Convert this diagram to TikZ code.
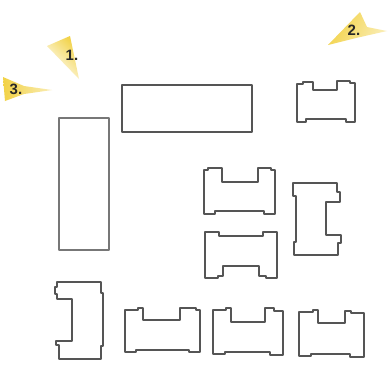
\documentclass[tikz,border=0pt]{standalone}
\usepackage{fontspec}
\setmainfont{Liberation Sans}
\definecolor{outl}{RGB}{85,85,85}
\definecolor{spike}{RGB}{242,210,70}
\definecolor{txt}{RGB}{40,40,40}
\begin{document}
\begin{tikzpicture}[x=1pt,y=-1pt,
  part/.style={draw=outl,line width=1.3pt,line join=round},
  lbl/.style={font=\bfseries\fontsize{15}{15}\selectfont,text=txt,inner sep=0pt},
  spk/.style={draw=none}]
\useasboundingbox (0,0) rectangle (391,370);
\fill[white] (0,0) rectangle (391,370);
% yellow spikes
\shade[spk,left color=spike,right color=white,shading angle=-45] (47,46) -- (70,36) -- (79,79) -- cycle;
\shade[spk,left color=spike,right color=white!60!spike] (3,77) -- (24,86) -- (52,90) -- (24,94) -- (5,101) -- cycle;
\shade[spk,left color=spike,right color=white!60!spike,shading angle=60] (328,45) -- (360,12) -- (367,27) -- (387,31) -- (356,38) -- cycle;
\node[lbl] (l1) at (72,55) {1.};
\node[lbl] (l2) at (354,30) {2.};
\node[lbl] (l3) at (16,89) {3.};
% rectangles
\draw[part] (122,85) rectangle (252,132);
\draw[part,draw=outl!80] (59,118) rectangle (109,250);
% top right (notch on top)
\draw[part] (297,84) -- (303,84) -- (303,82) -- (313,82) -- (313,90) -- (337,90) -- (337,81) -- (350,81) -- (350,83) -- (355,83)
  -- (355,122) -- (346,122) -- (346,119) -- (306,119) -- (306,122) -- (297,122) -- cycle;
% middle upper (notch on top)
\draw[part] (204,170) -- (208,170) -- (208,168) -- (222,168) -- (222,182) -- (258,182) -- (258,168) -- (271,168) -- (271,170) -- (275,170)
  -- (275,214) -- (264,214) -- (264,211) -- (215,211) -- (215,214) -- (204,214) -- cycle;
% middle lower (notch on bottom)
\draw[part] (205,232) -- (219,232) -- (219,236) -- (263,236) -- (263,232) -- (277,232)
  -- (277,278) -- (266,278) -- (266,276) -- (259,276) -- (259,266) -- (223,266) -- (223,276) -- (218,276) -- (218,278) -- (205,278) -- cycle;
% vertical right (notch on right)
\draw[part] (293,183) -- (337,183) -- (337,192) -- (340,192) -- (340,202) -- (326,202) -- (326,235) -- (341,235) -- (341,243) -- (338,243) -- (338,255)
  -- (294,255) -- (294,242) -- (296,242) -- (296,196) -- (293,196) -- cycle;
% vertical left bottom (notch on left)
\draw[part] (57,282) -- (101,282) -- (101,293) -- (103,293) -- (103,346) -- (101,346) -- (101,359) -- (59,359) -- (59,345) -- (56,345) -- (56,341)
  -- (72,341) -- (72,299) -- (57,299) -- (57,294) -- (55,294) -- (55,287) -- (57,287) -- cycle;
% bottom row (notch on top)
\draw[part] (125,310) -- (138,310) -- (138,308) -- (143,308) -- (143,320) -- (180,320) -- (180,308) -- (196,308) -- (196,310) -- (200,310)
  -- (200,352) -- (189,352) -- (189,350) -- (136,350) -- (136,352) -- (125,352) -- cycle;
\draw[part] (213,310) -- (226,310) -- (226,308) -- (231,308) -- (231,322) -- (265,322) -- (265,308) -- (274,308) -- (274,311) -- (283,311)
  -- (283,355) -- (270,355) -- (270,352) -- (225,352) -- (225,354) -- (213,354) -- cycle;
\draw[part] (299,312) -- (313,312) -- (313,310) -- (318,310) -- (318,323) -- (345,323) -- (345,311) -- (351,311) -- (351,313) -- (364,313)
  -- (364,357) -- (350,357) -- (350,354) -- (311,354) -- (311,356) -- (299,356) -- cycle;
\end{tikzpicture}
\end{document}
